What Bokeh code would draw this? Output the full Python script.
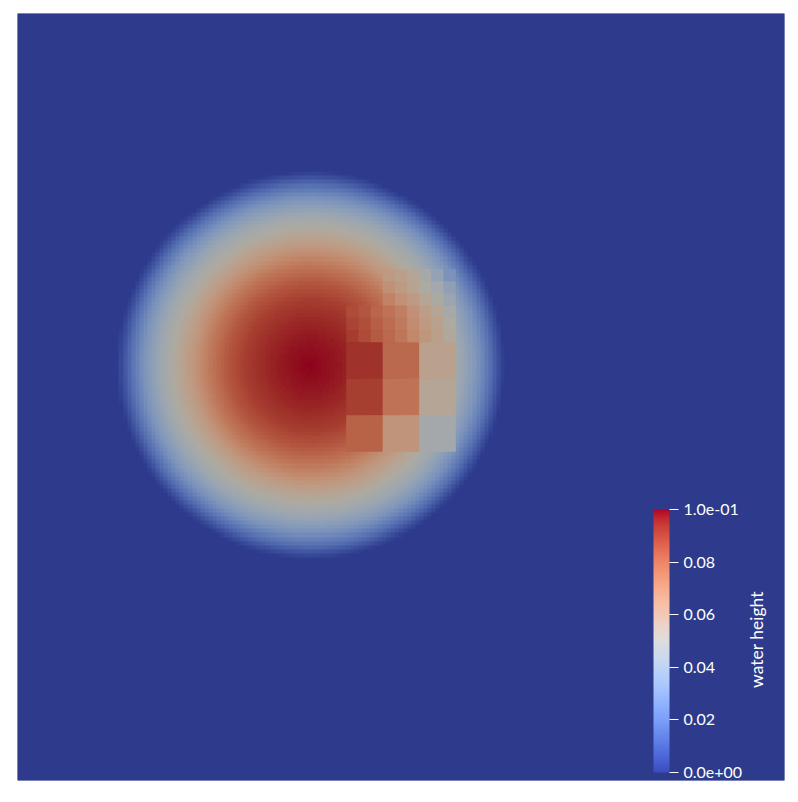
import numpy as np
from bokeh.plotting import figure
from bokeh.models import (LinearColorMapper, ColorBar, FixedTicker, CustomJSTickFormatter,
                          Label, ColumnDataSource)
from bokeh.embed import file_html
from bokeh.resources import INLINE

# ---------------- data ----------------
# domain: 21 x 21 coarse-cell units, fine level = 1/9 unit, medium level = 1/3 unit
DOMAIN = 21.0
FINE_N = 189
CENTER_X = 8.02
CENTER_Y = 11.37
# radial profile of water height (radius in domain units -> height)
PROFILE_R = [0.00, 0.90, 1.37, 1.83, 2.27, 2.74, 3.20, 3.64, 4.11, 4.57, 4.93, 5.15, 5.31]
PROFILE_H = [0.100, 0.097, 0.094, 0.090, 0.084, 0.075, 0.063, 0.053, 0.043, 0.030, 0.016, 0.006, 0.0]

# coarse cells (size 1): rows from top (y 11-12, 10-11, 9-10), cols x 9-10, 10-11, 11-12
COARSE_X0 = 9.0
COARSE_Y_TOP = 12.0
COARSE_VALUES = [
    [0.093, 0.079, 0.057],
    [0.090, 0.076, 0.054],
    [0.081, 0.064, 0.046],
]
# medium cells (size 1/3), upper band y 13-14 for x 10-12 (rows from top)
MED_UPPER_X0 = 10.0
MED_UPPER_Y_TOP = 14.0
MED_UPPER_VALUES = [
    [0.061, 0.058, 0.054, 0.047, 0.039, 0.030],
    [0.065, 0.061, 0.056, 0.050, 0.045, 0.037],
    [0.071, 0.065, 0.061, 0.055, 0.049, 0.042],
]
# medium cells, lower band y 12-13 for x 9-12 (rows from top)
MED_LOWER_X0 = 9.0
MED_LOWER_Y_TOP = 13.0
MED_LOWER_VALUES = [
    [0.087, 0.084, 0.080, 0.076, 0.072, 0.065, 0.059, 0.055, 0.047],
    [0.089, 0.086, 0.082, 0.078, 0.074, 0.067, 0.061, 0.057, 0.050],
    [0.091, 0.087, 0.083, 0.079, 0.075, 0.069, 0.063, 0.058, 0.052],
]

TICKS = [0.0, 0.02, 0.04, 0.06, 0.08, 0.1]
TICK_LABELS = ["0.0e+00", "0.02", "0.04", "0.06", "0.08", "1.0e-01"]
LOW, HIGH = 0.0, 0.1
TITLE = "water height"

# ---------------- colour map (ParaView "Cool to Warm") ----------------
CTW = [
    (59, 76, 192), (68, 90, 204), (77, 104, 215), (87, 117, 225), (98, 130, 234),
    (108, 142, 241), (119, 154, 247), (130, 165, 251), (141, 176, 254), (152, 185, 255),
    (163, 194, 255), (174, 201, 253), (184, 208, 249), (194, 213, 244), (204, 217, 238),
    (213, 219, 230), (221, 221, 221), (229, 216, 209), (236, 211, 197), (241, 204, 185),
    (245, 196, 173), (247, 187, 160), (247, 177, 148), (247, 166, 135), (244, 154, 123),
    (241, 141, 111), (236, 127, 99), (229, 112, 88), (222, 96, 77), (213, 80, 66),
    (203, 62, 56), (192, 40, 47), (180, 4, 38),
]
ctw = np.array(CTW, dtype=float)
pos = np.linspace(0, 1, len(CTW))
t = np.linspace(0, 1, 256)
rgb = np.stack([np.interp(t, pos, ctw[:, k]) for k in range(3)], axis=1)


def to_hex(a):
    a = np.clip(np.round(a), 0, 255).astype(int)
    return ["#%02x%02x%02x" % tuple(c) for c in a]


bar_palette = to_hex(rgb)
shade = np.array([0.78, 0.77, 0.73])
surface_palette = to_hex(rgb * shade)

surface_mapper = LinearColorMapper(palette=surface_palette, low=LOW, high=HIGH)
bar_mapper = LinearColorMapper(palette=bar_palette, low=LOW, high=HIGH)

# ---------------- field image (fine level) ----------------
c = (np.arange(FINE_N) + 0.5) * DOMAIN / FINE_N
XX, YY = np.meshgrid(c, c)
RR = np.hypot(XX - CENTER_X, YY - CENTER_Y)
field = np.interp(RR, PROFILE_R, PROFILE_H, right=0.0)

# ---------------- refined cells ----------------
cx, cy, cw, cv = [], [], [], []


def add_block(values, x0, ytop, size):
    for i, row in enumerate(values):
        for j, v in enumerate(row):
            cx.append(x0 + (j + 0.5) * size)
            cy.append(ytop - (i + 0.5) * size)
            cw.append(size)
            cv.append(v)


add_block(COARSE_VALUES, COARSE_X0, COARSE_Y_TOP, 1.0)
add_block(MED_UPPER_VALUES, MED_UPPER_X0, MED_UPPER_Y_TOP, 1.0 / 3)
add_block(MED_LOWER_VALUES, MED_LOWER_X0, MED_LOWER_Y_TOP, 1.0 / 3)
cells = ColumnDataSource(dict(x=cx, y=cy, w=cw, v=cv))

# ---------------- figure ----------------
p = figure(frame_width=767, frame_height=767, x_range=(0, DOMAIN), y_range=(0, DOMAIN),
           x_axis_type=None, y_axis_type=None, output_backend="svg", toolbar_location=None,
           min_border_left=17, min_border_top=13, min_border_right=6, min_border_bottom=10)
p.outline_line_color = None
p.background_fill_color = surface_palette[0]
p.border_fill_color = "white"

p.image(image=[field], x=0, y=0, dw=DOMAIN, dh=DOMAIN, color_mapper=surface_mapper)
p.rect(x="x", y="y", width="w", height="w", source=cells,
       fill_color={"field": "v", "transform": surface_mapper}, line_color=None)

label_js = "const t = %s; const l = %s; let best = 0; for (let i = 0; i < t.length; i++) { if (Math.abs(t[i]-tick) < Math.abs(t[best]-tick)) best = i; } return l[best];" % (
    str(TICKS), str(TICK_LABELS).replace("'", '"'))

cb = ColorBar(color_mapper=bar_mapper, ticker=FixedTicker(ticks=TICKS),
              formatter=CustomJSTickFormatter(code=label_js),
              width=16, height=263, location=(636, 8), padding=0,
              major_tick_in=0, major_tick_out=9, major_tick_line_color="white",
              major_tick_line_width=1, minor_tick_line_color=None,
              major_label_text_color="white", major_label_text_font="Lato",
              major_label_text_font_size="16px", label_standoff=5,
              background_fill_alpha=0, border_line_color=None, bar_line_color=None)
p.add_layout(cb)

p.add_layout(Label(x=739, y=141, x_units="screen", y_units="screen", text=TITLE,
                   angle=90, angle_units="deg", text_color="white", text_font="Lato",
                   text_font_size="17.5px", text_align="center", text_baseline="middle"))

open("out.html", "w").write(file_html(p, INLINE))
